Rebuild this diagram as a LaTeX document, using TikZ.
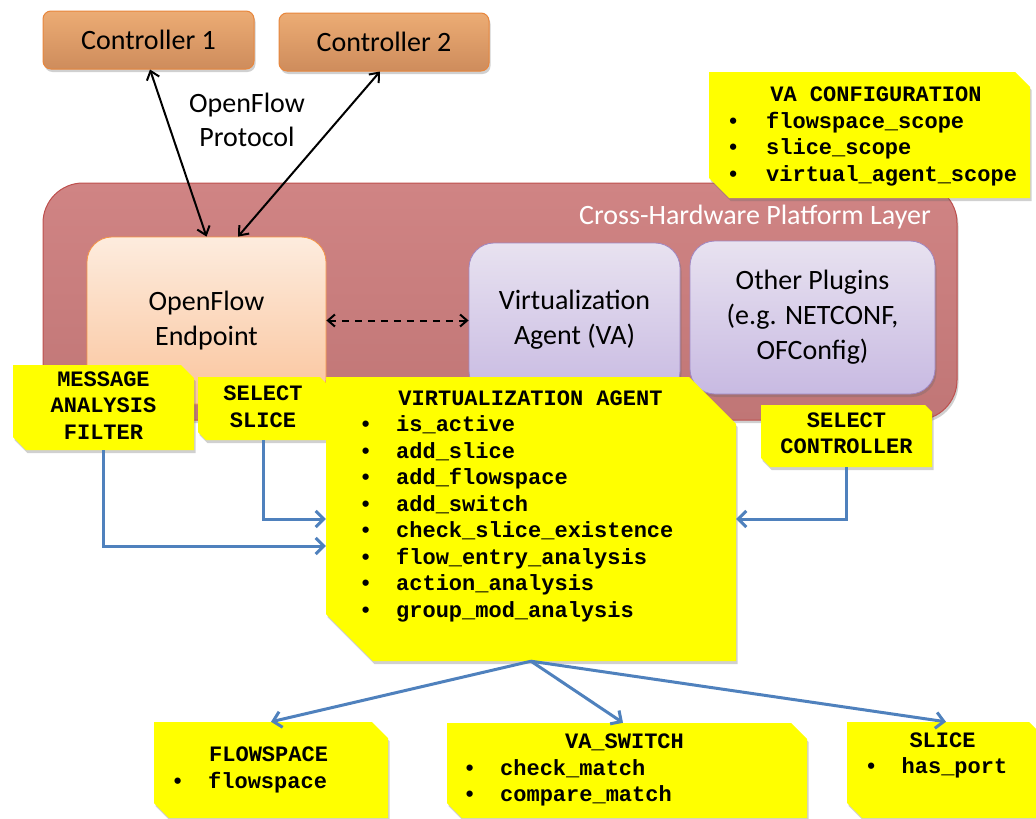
\documentclass[tikz,border=0pt]{standalone}
\usepackage{fontspec}
\setmainfont{Carlito}
\newfontfamily\courfont{Liberation Mono}
\usetikzlibrary{arrows.meta,shadows,fit,calc}

\definecolor{ctrtop}{RGB}{236,172,116}
\definecolor{ctrbot}{RGB}{206,140,92}
\definecolor{ctrdraw}{RGB}{232,134,60}
\definecolor{laytop}{RGB}{208,132,132}
\definecolor{laybot}{RGB}{192,118,118}
\definecolor{laydraw}{RGB}{190,80,78}
\definecolor{oftop}{RGB}{253,236,222}
\definecolor{ofbot}{RGB}{250,196,156}
\definecolor{ofdraw}{RGB}{246,150,70}
\definecolor{vatop}{RGB}{232,226,240}
\definecolor{vabot}{RGB}{200,186,226}
\definecolor{vadraw}{RGB}{160,136,196}
\definecolor{notey}{RGB}{255,255,0}
\definecolor{linkblue}{RGB}{79,129,189}

\newcommand\bl[1][37pt]{\makebox[#1][l]{\textbullet}}
\newcommand\snipbox[7]{%
  \path[notefill] (#2,#3) -- ({#4-#6},#3) -- (#4,{#3+#6}) -- (#4,#5) -- ({#2+#7},#5) -- (#2,{#5-#7}) -- cycle;
  \node[fit={(#2,#3)(#4,#5)}, inner sep=0pt] (#1) {};}

\tikzset{
  softshadow/.style={drop shadow={shadow xshift=1.5pt, shadow yshift=-3pt, opacity=0.3, fill=black!60}},
  ctrl/.style={rectangle, rounded corners=8pt, top color=ctrtop, bottom color=ctrbot, draw=ctrdraw,
    line width=1pt, minimum width=211pt, minimum height=58pt, inner sep=0pt,
    font=\fontsize{28}{35}\selectfont, softshadow},
  layerbox/.style={rectangle, rounded corners=40pt, top color=laytop, bottom color=laybot, draw=laydraw,
    line width=1pt, inner sep=0pt, softshadow},
  ofbox/.style={rectangle, rounded corners=25pt, top color=oftop, bottom color=ofbot, draw=ofdraw,
    line width=0.8pt, inner sep=0pt, align=center, font=\fontsize{28}{35}\selectfont},
  vabox/.style={rectangle, rounded corners=25pt, top color=vatop, bottom color=vabot, draw=vadraw,
    line width=0.8pt, inner sep=0pt, align=center, font=\fontsize{28}{35}\selectfont, softshadow},
  notefill/.style={fill=notey, softshadow},
  notetext/.style={font=\courfont\bfseries\fontsize{22}{26.5}\selectfont, inner sep=0pt},
  plaintext/.style={inner sep=0pt, align=center, font=\fontsize{28}{34}\selectfont},
  blackarrow/.style={line width=2pt, {Straight Barb[length=8pt,width=13pt]}-{Straight Barb[length=8pt,width=13pt]}},
  dasharrow/.style={line width=2pt, dash pattern=on 7pt off 6pt, {Straight Barb[length=7pt,width=12pt]}-{Straight Barb[length=7pt,width=12pt]}},
  bluearrow/.style={line width=3pt, draw=linkblue, -{Straight Barb[length=8pt,width=16pt]}},
}

\begin{document}
\begin{tikzpicture}[x=1pt, y=-1pt]
\useasboundingbox[fill=white] (0,0) rectangle (1036,819);

% controllers
\node[ctrl] (c1) at (148.5,40) {Controller 1};
\node[ctrl, minimum width=210pt] (c2) at (384,42) {Controller 2};
\node[plaintext] (proto) at (247,120) {OpenFlow\\Protocol};

% platform layer
\node[layerbox, minimum width=914pt, minimum height=237pt] (layer) at (500,301.5) {};
\node[plaintext, text=white] (layerlbl) at (755,217) {Cross-Hardware Platform Layer};

\node[ofbox, minimum width=239pt, minimum height=167pt] (ofe) at (206.5,320.5) {OpenFlow\\Endpoint};
\node[vabox, minimum width=211pt, minimum height=153pt] (va) at (574.5,319.5) {Virtualization\\Agent (VA)};
\node[vabox, minimum width=245pt, minimum height=153pt] (op) at (812.5,317.5) {Other Plugins\\(e.g. NETCONF,\\OFConfig)};

\draw[blackarrow] ([xshift=1.5pt]c1.south) -- (ofe.north);
\draw[blackarrow] ([xshift=-4pt]c2.south) -- ([xshift=31.5pt]ofe.north);
\draw[dasharrow] (ofe.east) -- (ofe.east -| va.west);

% yellow notes
\snipbox{vacfg}{709}{72}{1030}{198}{15}{20}
\snipbox{maf}{13}{365}{194}{450}{13}{13}
\snipbox{ss}{198}{377}{328}{440}{8}{8}
\snipbox{vab}{326}{377}{736}{661}{47}{47}
\snipbox{sc}{761}{405}{932}{467}{7}{9}
\snipbox{fs}{154}{722}{388}{818}{16}{15}
\snipbox{vsw}{447}{723}{807}{818}{16}{15}
\snipbox{sl}{847}{722}{1045}{818}{16}{15}

% blue connectors
\draw[bluearrow] (maf.south) |- ([yshift=-27pt]vab.west);
\draw[bluearrow] (ss.south) |- (vab.west);
\draw[bluearrow] (sc.south) |- (vab.east);
\draw[bluearrow] (vab.south) -- (fs.north);
\draw[bluearrow] (vab.south) -- ([xshift=-4pt]vsw.north);
\draw[bluearrow] (vab.south) -- (sl.north);

% note texts
\node[notetext, anchor=base] (vacfgH) at (876,101.7) {VA CONFIGURATION};
\node[notetext, anchor=base west] (vacfgL) at (726.5,128.3) {\begin{tabular}[t]{@{}l@{}}\bl[39.5pt]flowspace\_scope\\\bl[39.5pt]slice\_scope\\\bl[39.5pt]virtual\_agent\_scope\end{tabular}};

\node[notetext, anchor=base] (mafT) at (103.5,386) {\begin{tabular}[t]{@{}c@{}}MESSAGE\\ANALYSIS\\FILTER\end{tabular}};
\node[notetext, anchor=base] (ssT) at (263,400.7) {\begin{tabular}[t]{@{}c@{}}SELECT\\SLICE\end{tabular}};
\node[notetext, anchor=base] (scT) at (846.5,427) {\begin{tabular}[t]{@{}c@{}}SELECT\\CONTROLLER\end{tabular}};

\node[notetext, anchor=base] (vabH) at (530.5,405) {VIRTUALIZATION AGENT};
\node[notetext, anchor=base west] (vabL) at (359,431.7) {\begin{tabular}[t]{@{}l@{}}\bl is\_active\\\bl add\_slice\\\bl add\_flowspace\\\bl add\_switch\\\bl check\_slice\_existence\\\bl flow\_entry\_analysis\\\bl action\_analysis\\\bl group\_mod\_analysis\end{tabular}};

\node[notetext, anchor=base] (fsH) at (268.6,761.7) {FLOWSPACE};
\node[notetext, anchor=base west] (fsL) at (171,788) {\bl flowspace};

\node[notetext, anchor=base] (vswH) at (624.5,748) {VA\_SWITCH};
\node[notetext, anchor=base west] (vswL) at (463,775) {\begin{tabular}[t]{@{}l@{}}\bl check\_match\\\bl compare\_match\end{tabular}};

\node[notetext, anchor=base] (slH) at (942.5,747) {SLICE};
\node[notetext, anchor=base west] (slL) at (864.5,773) {\bl has\_port};
\end{tikzpicture}
\end{document}
